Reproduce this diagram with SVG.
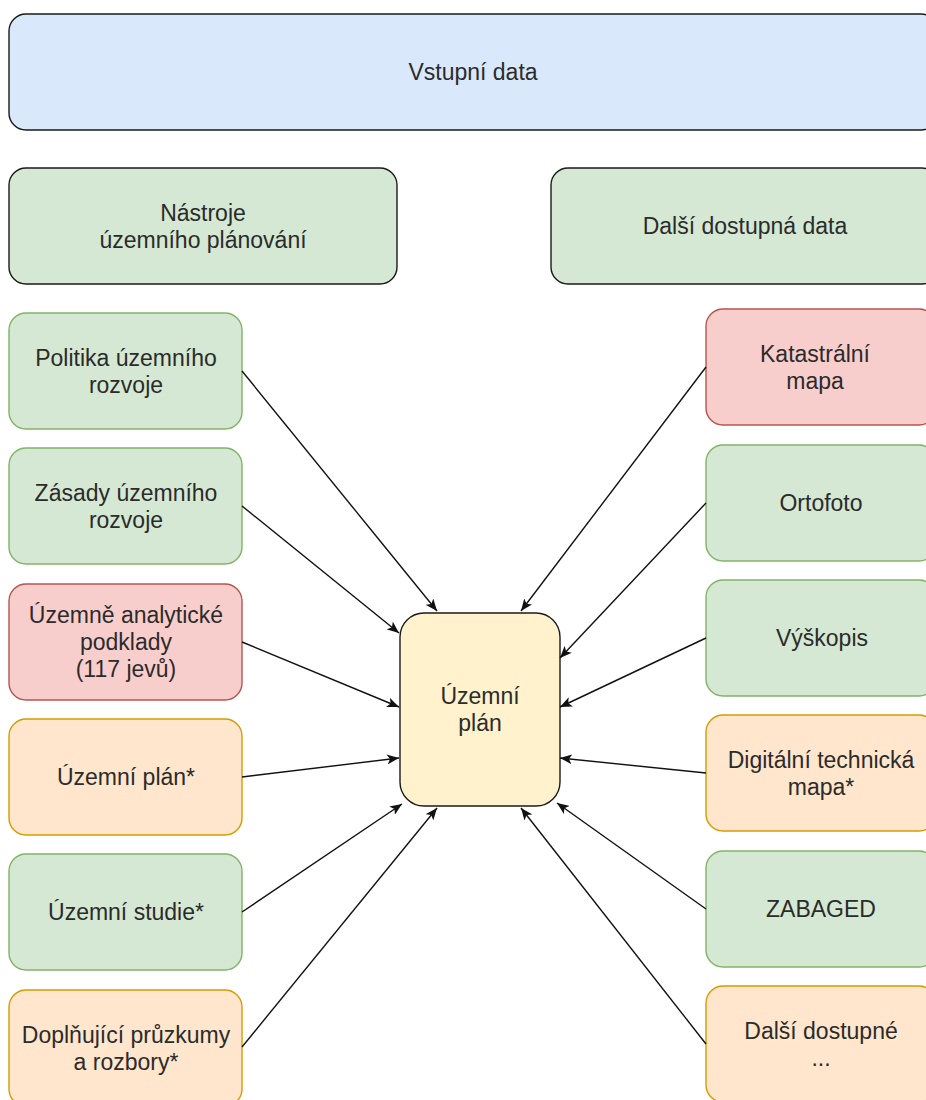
<svg xmlns="http://www.w3.org/2000/svg" width="926" height="1100" viewBox="0 0 926 1100">
  <style>
    text { font-family: "Liberation Sans", Arial, sans-serif; font-size: 23px; fill: #2b2b2b; text-anchor: middle; }
    .box { stroke-width: 1.4; }
    .dark { stroke: #1a1a1a; }
    .blue { fill: #dae8fc; }
    .green { fill: #d5e8d4; stroke: #82b366; }
    .greenDark { fill: #d5e8d4; }
    .red { fill: #f8cecc; stroke: #b85450; }
    .orange { fill: #ffe6cc; stroke: #d79b00; }
    .yellow { fill: #fff2cc; }
    .edge { fill: none; stroke: #111; stroke-width: 1.4; marker-end: url(#arrow); }
  </style>
  <defs>
    <marker id="arrow" viewBox="0 0 12 10" refX="12" refY="5" markerWidth="12" markerHeight="10" markerUnits="userSpaceOnUse" orient="auto">
      <path d="M0,0 L12,5 L0,10 L3,5 Z" fill="#111"/>
    </marker>
  </defs>

  <rect width="926" height="1100" fill="#ffffff"/>

  <!-- header -->
  <g id="vstupni-data">
    <rect class="box dark blue" x="9" y="14" width="929" height="116" rx="17"/>
    <text x="473" y="80">Vstupní data</text>
  </g>

  <!-- group headers -->
  <g id="nastroje">
    <rect class="box dark greenDark" x="9" y="168" width="388" height="116" rx="17"/>
    <text x="203" y="220.5">Nástroje</text>
    <text x="203" y="247.5">územního plánování</text>
  </g>
  <g id="dalsi-data">
    <rect class="box dark greenDark" x="551" y="168" width="388" height="116" rx="17"/>
    <text x="745" y="234">Další dostupná data</text>
  </g>

  <!-- left column: planning instruments -->
  <g id="politika">
    <rect class="box green" x="9" y="313" width="233" height="116" rx="17"/>
    <text x="126" y="365.5">Politika územního</text>
    <text x="126" y="392.5">rozvoje</text>
  </g>
  <g id="zasady">
    <rect class="box green" x="9" y="448" width="233" height="116" rx="17"/>
    <text x="126" y="500.5">Zásady územního</text>
    <text x="126" y="527.5">rozvoje</text>
  </g>
  <g id="uap">
    <rect class="box red" x="9" y="584" width="233" height="116" rx="17"/>
    <text x="126" y="623">Územně analytické</text>
    <text x="126" y="650">podklady</text>
    <text x="126" y="677">(117 jevů)</text>
  </g>
  <g id="uzemni-plan-ref">
    <rect class="box orange" x="9" y="719" width="233" height="116" rx="17"/>
    <text x="126" y="785">Územní plán*</text>
  </g>
  <g id="uzemni-studie">
    <rect class="box green" x="9" y="854" width="233" height="116" rx="17"/>
    <text x="126" y="920">Územní studie*</text>
  </g>
  <g id="pruzkumy">
    <rect class="box orange" x="9" y="990" width="233" height="116" rx="17"/>
    <text x="126" y="1042.5">Doplňující průzkumy</text>
    <text x="126" y="1069.5">a rozbory*</text>
  </g>

  <!-- right column: other available data -->
  <g id="katastralni-mapa">
    <rect class="box red" x="706" y="309" width="230" height="116" rx="17"/>
    <text x="815" y="361.5">Katastrální</text>
    <text x="815" y="388.5">mapa</text>
  </g>
  <g id="ortofoto">
    <rect class="box green" x="706" y="445" width="230" height="116" rx="17"/>
    <text x="821" y="511">Ortofoto</text>
  </g>
  <g id="vyskopis">
    <rect class="box green" x="706" y="580" width="230" height="116" rx="17"/>
    <text x="822" y="646">Výškopis</text>
  </g>
  <g id="dtm">
    <rect class="box orange" x="706" y="715" width="230" height="116" rx="17"/>
    <text x="821" y="767.5">Digitální technická</text>
    <text x="821" y="794.5">mapa*</text>
  </g>
  <g id="zabaged">
    <rect class="box green" x="706" y="851" width="230" height="116" rx="17"/>
    <text x="821" y="917">ZABAGED</text>
  </g>
  <g id="dalsi-dostupne">
    <rect class="box orange" x="706" y="986" width="230" height="116" rx="17"/>
    <text x="821" y="1038.5">Další dostupné</text>
    <text x="821" y="1065.5">...</text>
  </g>

  <!-- target -->
  <g id="uzemni-plan">
    <rect class="box dark yellow" x="400" y="613" width="160" height="193" rx="24"/>
    <text x="480" y="704">Územní</text>
    <text x="480" y="731">plán</text>
  </g>

  <!-- connectors -->
  <g id="connectors">
    <line class="edge" x1="242" y1="371" x2="437" y2="611"/>
    <line class="edge" x1="242" y1="506" x2="399" y2="633"/>
    <line class="edge" x1="242" y1="642" x2="399" y2="707"/>
    <line class="edge" x1="242" y1="777" x2="399" y2="758"/>
    <line class="edge" x1="242" y1="912" x2="402" y2="804"/>
    <line class="edge" x1="242" y1="1047" x2="437" y2="808"/>
    <line class="edge" x1="706" y1="367" x2="521" y2="611"/>
    <line class="edge" x1="706" y1="503" x2="560" y2="658"/>
    <line class="edge" x1="706" y1="638" x2="560" y2="707"/>
    <line class="edge" x1="706" y1="773" x2="560" y2="758"/>
    <line class="edge" x1="706" y1="909" x2="557" y2="803"/>
    <line class="edge" x1="706" y1="1044" x2="521" y2="808"/>
  </g>
</svg>
